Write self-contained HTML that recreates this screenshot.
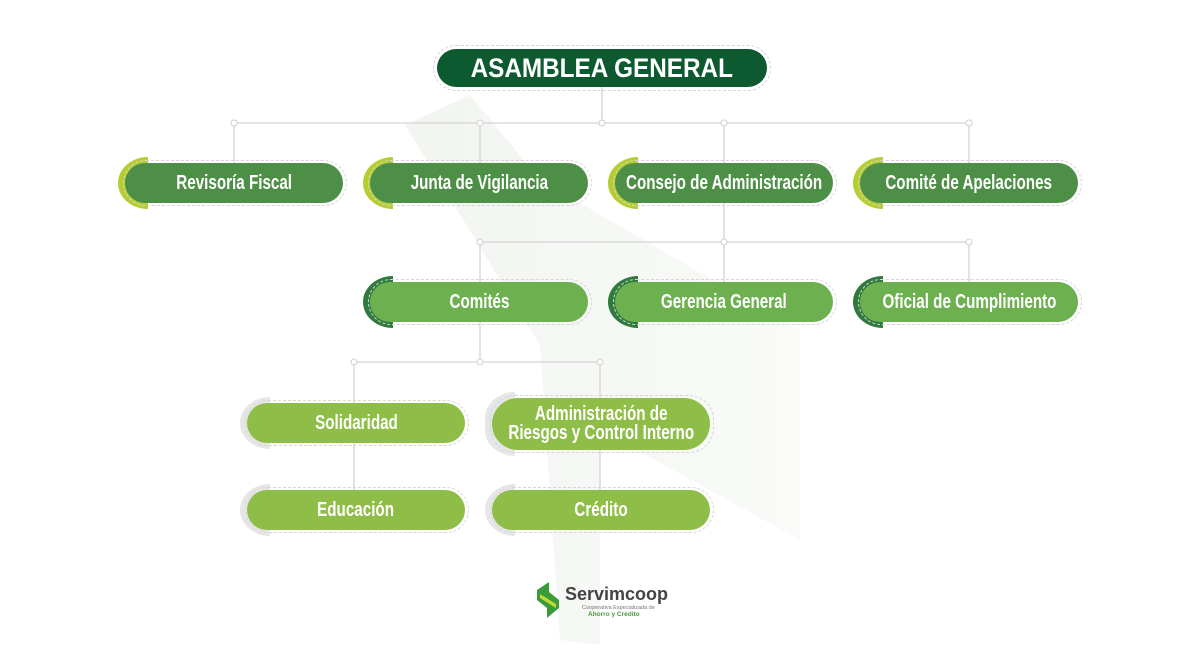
<!DOCTYPE html>
<html><head><meta charset="utf-8"><style>
body{margin:0;width:1200px;height:670px;background:#fff;position:relative;overflow:hidden;font-family:"Liberation Sans",sans-serif;}
.acc{position:absolute;border-radius:30px 0 0 30px / 26px 0 0 26px;width:30px;}
.p{position:absolute;border-radius:22px;color:#fff;font-weight:bold;font-size:20px;display:flex;align-items:center;justify-content:center;text-align:center;line-height:19px;white-space:nowrap;}
.p span{display:inline-block;transform:scaleX(0.76);}
.d{position:absolute;border:1px dashed #d6d6d6;border-radius:25px;}
</style></head><body>
<svg width="1200" height="670" style="position:absolute;left:0;top:0">
<defs><linearGradient id="g" x1="0" y1="0" x2="1" y2="0"><stop offset="0" stop-color="#eef2ec"/><stop offset="1" stop-color="#f8faf7"/></linearGradient></defs>
<polygon points="405,125 470,95 540,180 800,330 800,540 600,430 600,645 560,640 540,345" fill="url(#g)" opacity="0.8"/>
<g stroke="#d4d4d4" stroke-width="1.3" fill="none">
<line x1="602" y1="87" x2="602" y2="123"/>
<line x1="234" y1="123" x2="969" y2="123"/>
<line x1="234" y1="123" x2="234" y2="163"/><line x1="480" y1="123" x2="480" y2="163"/>
<line x1="724" y1="123" x2="724" y2="163"/><line x1="969" y1="123" x2="969" y2="163"/>
<line x1="724" y1="203" x2="724" y2="282"/>
<line x1="480" y1="242" x2="969" y2="242"/>
<line x1="480" y1="242" x2="480" y2="282"/><line x1="969" y1="242" x2="969" y2="282"/>
<line x1="480" y1="322" x2="480" y2="362"/>
<line x1="354" y1="362" x2="600" y2="362"/>
<line x1="354" y1="362" x2="354" y2="403"/><line x1="600" y1="362" x2="600" y2="398"/>
<line x1="354" y1="443" x2="354" y2="490"/><line x1="600" y1="450" x2="600" y2="490"/>
</g>
<g fill="#fff" stroke="#cfcfcf" stroke-width="1">
<circle cx="234" cy="123" r="3"/><circle cx="480" cy="123" r="3"/><circle cx="602" cy="123" r="3"/><circle cx="724" cy="123" r="3"/><circle cx="969" cy="123" r="3"/>
<circle cx="480" cy="242" r="3"/><circle cx="724" cy="242" r="3"/><circle cx="969" cy="242" r="3"/>
<circle cx="354" cy="362" r="3"/><circle cx="480" cy="362" r="3"/><circle cx="600" cy="362" r="3"/>
</g>
<g transform="translate(537,582)">
<polygon points="0,8 12,0 12,10 22,18 22,26 10,36 10,26 0,18" fill="#3a9b3a"/>
<polygon points="3,12 19,22 19,26 3,16" fill="#c4d830"/>
</g>
<text x="565" y="600" font-family="Liberation Sans" font-weight="bold" font-size="18" fill="#444">Servimcoop</text>
<text x="582" y="609" font-family="Liberation Sans" font-size="5.5" fill="#777">Cooperativa Especializada de</text>
<text x="588" y="616" font-family="Liberation Sans" font-weight="bold" font-size="6.5" fill="#4a9a3a">Ahorro y Crédito</text>
</svg>

<div class="d" style="left:433px;top:45px;width:336px;height:44px"></div>
<div class="p" style="left:437px;top:49px;width:330px;height:38px;background:#0d5a31;font-size:27px;border-radius:20px"><span style="transform:scaleX(0.9)">ASAMBLEA GENERAL</span></div>

<div class="acc" style="left:118px;top:157px;height:52px;background:#b6cd32"></div>
<div class="d" style="left:123px;top:160px;width:222px;height:44px"></div>
<div class="p" style="left:125px;top:163px;width:218px;height:40px;background:#4e8f47"><span>Revisoría Fiscal</span></div>
<div class="acc" style="left:363px;top:157px;height:52px;background:#b6cd32"></div>
<div class="d" style="left:368px;top:160px;width:222px;height:44px"></div>
<div class="p" style="left:370px;top:163px;width:218px;height:40px;background:#4e8f47"><span>Junta de Vigilancia</span></div>
<div class="acc" style="left:608px;top:157px;height:52px;background:#b6cd32"></div>
<div class="d" style="left:613px;top:160px;width:222px;height:44px"></div>
<div class="p" style="left:615px;top:163px;width:218px;height:40px;background:#4e8f47"><span>Consejo de Administración</span></div>
<div class="acc" style="left:853px;top:157px;height:52px;background:#b6cd32"></div>
<div class="d" style="left:858px;top:160px;width:222px;height:44px"></div>
<div class="p" style="left:860px;top:163px;width:218px;height:40px;background:#4e8f47"><span>Comité de Apelaciones</span></div>

<div class="acc" style="left:363px;top:276px;height:52px;background:#2f7a3c"></div>
<div class="d" style="left:368px;top:279px;width:222px;height:44px"></div>
<div class="p" style="left:370px;top:282px;width:218px;height:40px;background:#6cb04f"><span>Comités</span></div>
<div class="acc" style="left:608px;top:276px;height:52px;background:#2f7a3c"></div>
<div class="d" style="left:613px;top:279px;width:222px;height:44px"></div>
<div class="p" style="left:615px;top:282px;width:218px;height:40px;background:#6cb04f"><span>Gerencia General</span></div>
<div class="acc" style="left:853px;top:276px;height:52px;background:#2f7a3c"></div>
<div class="d" style="left:858px;top:279px;width:222px;height:44px"></div>
<div class="p" style="left:860px;top:282px;width:218px;height:40px;background:#6cb04f"><span>Oficial de Cumplimiento</span></div>

<div class="acc" style="left:240px;top:397px;height:52px;background:#e6e6e6"></div>
<div class="d" style="left:245px;top:400px;width:222px;height:44px"></div>
<div class="p" style="left:247px;top:403px;width:218px;height:40px;background:#8fbe48"><span>Solidaridad</span></div>
<div class="acc" style="left:485px;top:392px;height:64px;background:#e6e6e6"></div>
<div class="d" style="left:490px;top:395px;width:222px;height:56px"></div>
<div class="p" style="left:492px;top:398px;width:218px;height:52px;background:#8fbe48;border-radius:26px"><span>Administración de<br>Riesgos y Control Interno</span></div>

<div class="acc" style="left:240px;top:484px;height:52px;background:#e6e6e6"></div>
<div class="d" style="left:245px;top:487px;width:222px;height:44px"></div>
<div class="p" style="left:247px;top:490px;width:218px;height:40px;background:#8fbe48"><span>Educación</span></div>
<div class="acc" style="left:485px;top:484px;height:52px;background:#e6e6e6"></div>
<div class="d" style="left:490px;top:487px;width:222px;height:44px"></div>
<div class="p" style="left:492px;top:490px;width:218px;height:40px;background:#8fbe48"><span>Crédito</span></div>
</body></html>
